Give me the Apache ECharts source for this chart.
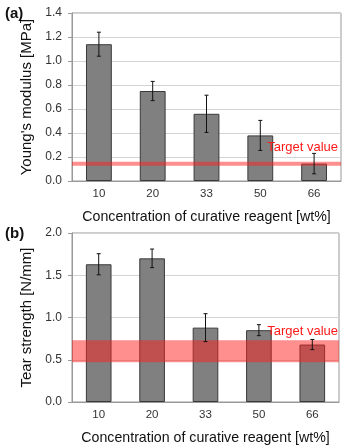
<!DOCTYPE html>
<html>
<head>
<meta charset="utf-8">
<script src="https://cdn.jsdelivr.net/npm/echarts@6/dist/echarts.min.js"></script>
<style>
  html,body{margin:0;padding:0;background:#fff;}
  #chart{width:359px;height:448px;}
</style>
</head>
<body>
<div id="chart"></div>
<script>
// concentration of curative reagent [wt%]
const categories = ['10', '20', '33', '50', '66'];

// (a) Young's modulus [MPa]
const modulusMean = [1.14, 0.75, 0.56, 0.38, 0.145];
const modulusErr = [0.10, 0.08, 0.155, 0.125, 0.085];
const modulusTarget = [0.128, 0.16];

// (b) Tear strength [N/mm]
const tearMean = [1.63, 1.70, 0.88, 0.85, 0.68];
const tearErr = [0.125, 0.11, 0.165, 0.065, 0.06];
const tearTarget = [0.47, 0.73];

const chart = echarts.init(document.getElementById('chart'));

const font = 'Liberation Sans, Arial, sans-serif';

function errorSeries(mean, err, idx) {
    return {
        type: 'custom',
        xAxisIndex: idx,
        yAxisIndex: idx,
        z: 5,
        data: mean.map((m, i) => [i, m - err[i], m + err[i]]),
        renderItem: function (params, api) {
            const lo = api.coord([api.value(0), api.value(1)]);
            const hi = api.coord([api.value(0), api.value(2)]);
            const w = 2;
            const st = {stroke: '#111', lineWidth: 1};
            return {
                type: 'group',
                children: [
                    {type: 'line', shape: {x1: lo[0], y1: lo[1], x2: hi[0], y2: hi[1]}, style: st},
                    {type: 'line', shape: {x1: lo[0] - w, y1: lo[1], x2: lo[0] + w, y2: lo[1]}, style: st},
                    {type: 'line', shape: {x1: hi[0] - w, y1: hi[1], x2: hi[0] + w, y2: hi[1]}, style: st}
                ]
            };
        }
    };
}

function barSeries(mean, idx) {
    return {
        type: 'bar',
        xAxisIndex: idx,
        yAxisIndex: idx,
        z: 2,
        data: mean,
        barWidth: '48%',
        itemStyle: {color: '#808080', borderColor: '#3a3a3a', borderWidth: 1}
    };
}

// empty series that only carries the target band, drawn over the bars
function targetSeries(target, idx, labelOffset) {
    return {
        type: 'line',
        xAxisIndex: idx,
        yAxisIndex: idx,
        z: 3,
        data: [],
        markArea: {
            silent: true,
            z: 3,
            itemStyle: {color: 'rgba(255,30,30,0.5)'},
            label: {
                show: true,
                position: 'insideTopRight',
                offset: labelOffset,
                color: '#ff1a1a',
                fontFamily: font,
                fontSize: 13
            },
            data: [[{yAxis: target[0], name: 'Target value'}, {yAxis: target[1]}]]
        }
    };
}

function xAxis(idx) {
    return {
        type: 'category',
        gridIndex: idx,
        data: categories,
        name: 'Concentration of curative reagent [wt%]',
        nameLocation: 'middle',
        nameGap: 29,
        nameTextStyle: {fontFamily: font, fontSize: 14.2, color: '#111'},
        axisLine: {lineStyle: {color: '#999'}},
        axisTick: {show: false},
        axisLabel: {fontFamily: font, fontSize: 11.5, color: '#333', margin: 7}
    };
}

function yAxis(idx, name, max, interval) {
    return {
        type: 'value',
        gridIndex: idx,
        min: 0,
        max: max,
        interval: interval,
        name: name,
        nameLocation: 'middle',
        nameGap: 35,
        nameTextStyle: {fontFamily: font, fontSize: 15, color: '#111'},
        axisLine: {show: true, lineStyle: {color: '#999'}},
        axisTick: {show: true, length: 4, lineStyle: {color: '#999'}},
        splitLine: {lineStyle: {color: '#d4d4d4'}},
        axisLabel: {
            fontFamily: font, fontSize: 12, color: '#333', margin: 10,
            formatter: v => v.toFixed(1)
        }
    };
}

const option = {
    animation: false,
    backgroundColor: '#fff',
    grid: [
        {left: 72, right: 18, top: 13, height: 168, show: true, borderColor: '#999', borderWidth: 1},
        {left: 72, right: 20, top: 233, height: 169, show: true, borderColor: '#999', borderWidth: 1}
    ],
    graphic: [
        {type: 'text', left: 5, top: 6, style: {text: '(a)', fontFamily: font, fontSize: 15, fontWeight: 'bold', fill: '#111'}},
        {type: 'text', left: 5, top: 226, style: {text: '(b)', fontFamily: font, fontSize: 15, fontWeight: 'bold', fill: '#111'}}
    ],
    xAxis: [xAxis(0), xAxis(1)],
    yAxis: [
        yAxis(0, "Young's modulus [MPa]", 1.4, 0.2),
        yAxis(1, 'Tear strength [N/mm]', 2.0, 0.5)
    ],
    series: [
        barSeries(modulusMean, 0),
        targetSeries(modulusTarget, 0, [2, -26]),
        errorSeries(modulusMean, modulusErr, 0),
        barSeries(tearMean, 1),
        targetSeries(tearTarget, 1, [4, -20]),
        errorSeries(tearMean, tearErr, 1)
    ]
};

chart.setOption(option);
</script>
</body>
</html>
